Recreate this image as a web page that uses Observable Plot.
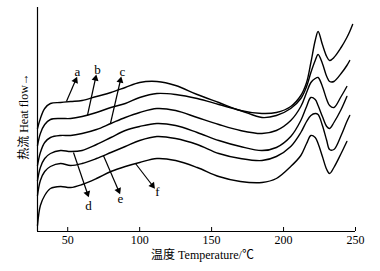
<!DOCTYPE html>
<html>
<head>
<meta charset="utf-8">
<script src="https://cdn.jsdelivr.net/npm/d3@7"></script>
<script src="https://cdn.jsdelivr.net/npm/@observablehq/plot@0.6"></script>
<style>
  html, body { margin: 0; padding: 0; background: #fff; }
</style>
</head>
<body>
<div id="chart"></div>
<script>
// Temperature grid (°C) shared by all curves
const temps = [29, 31, 34, 38, 45, 52, 60, 70, 80, 90, 100, 112, 125, 140, 155, 170, 185, 195, 205, 212, 216, 219, 222, 224, 227, 230, 232, 235, 240, 244, 246, 248];
// Heat flow (arbitrary units) for each curve
const flowA = [103,113,123,128,129,130,131,135,139,144,149,150,146,137,129,121,118,119,125,136,149,169,191,200,187,175,171,174,184,194,200,207];
const flowB = [86,98,107,112,113,113,115,119,124,128,134,138,137,133,127,121,114,116,123,133,145,159,171,177,168,155,150,150,158,166,171,null];
const flowC = [66,79,89,94,96,96,98,102,108,114,119,123,121,114,107,101,98,101,111,125,139,149,153,154,145,132,126,124,135,145,null,null];
const flowD = [51,64,73,78,81,80,81,87,94,101,105,108,106,99,91,85,81,84,95,111,125,134,132,126,115,105,103,109,122,135,null,null];
const flowE = [36,51,60,65,68,66,68,73,79,85,91,95,93,87,78,73,71,75,85,99,110,116,118,117,106,91,82,82,96,110,116,null];
const flowF = [6,26,36,43,45,44,47,53,60,65,69,73,71,64,55,50,49,53,65,76,88,96,94,88,75,62,58,64,78,90,null,null];

const seriesNames = ["a", "b", "c", "d", "e", "f"];
const seriesFlows = [flowA, flowB, flowC, flowD, flowE, flowF];

// Annotation arrows: start on curve -> arrow tip, and label position
const arrowX1 = [49.1, 63.7, 79.7, 54.0, 74.8, 97.1];
const arrowY1 = [130, 116, 108, 79, 76, 68];
const arrowX2 = [55.4, 69.3, 86.6, 63.7, 85.3, 108.9];
const arrowY2 = [151, 153, 151, 38, 41, 46];
const labelX = [56.8, 70.7, 88.0, 64.4, 86.6, 112.3];
const labelY = [160, 162, 160, 26, 33, 40];

const xTicks = [50, 100, 150, 200, 250];
const xLabel = "温度 Temperature/℃";
const yLabel = "热流 Heat flow→";

const xDomain = [29, 250];
const yDomain = [0, 224];

// Build tables
const curveRows = [];
seriesNames.forEach((name, i) => {
  temps.forEach((t, j) => {
    curveRows.push({series: name, t, v: seriesFlows[i][j]});
  });
});

const W = 380, H = 271;
const mL = 37, mR = 25, mT = 7, mB = 40;
const kx = (W - mL - mR) / (xDomain[1] - xDomain[0]);
const ky = (H - mT - mB) / (yDomain[1] - yDomain[0]);

const arrows = seriesNames.map((name, i) => ({
  name,
  x1: arrowX1[i], y1: arrowY1[i], x2: arrowX2[i], y2: arrowY2[i],
  lx: labelX[i], ly: labelY[i],
  angle: Math.atan2((arrowX2[i] - arrowX1[i]) * kx, (arrowY2[i] - arrowY1[i]) * ky) * 180 / Math.PI
}));

const font = "'Liberation Serif', 'Times New Roman', 'Noto Sans CJK SC', serif";

const chart = Plot.plot({
  width: W,
  height: H,
  marginLeft: mL,
  marginRight: mR,
  marginTop: mT,
  marginBottom: mB,
  style: {fontFamily: font, fontSize: "12px", color: "#000", background: "#fff"},
  x: {domain: xDomain},
  y: {domain: yDomain, axis: null},
  marks: [
    Plot.ruleX([xDomain[0]], {stroke: "#000", strokeWidth: 1.2}),
    Plot.ruleY([yDomain[0]], {stroke: "#000", strokeWidth: 1.2}),
    Plot.axisX({ticks: xTicks, tickSize: -4, tickPadding: 8, label: null, fontSize: 12, tickFormat: d => String(d)}),
    Plot.line(curveRows, {x: "t", y: "v", z: "series", stroke: "#000", strokeWidth: 1.4, curve: "catmull-rom", defined: d => d.v != null}),
    Plot.link(arrows, {x1: "x1", y1: "y1", x2: "x2", y2: "y2", stroke: "#000", strokeWidth: 1.2}),
    Plot.dot(arrows, {x: "x2", y: "y2", symbol: "triangle", r: 2.6, fill: "#000", stroke: null, rotate: "angle"}),
    Plot.text(arrows, {x: "lx", y: "ly", text: "name", fontSize: 13, fill: "#000"}),
    Plot.text([xLabel], {frameAnchor: "bottom", textAnchor: "middle", dy: 27, dx: 6, fontSize: 12, fill: "#000"}),
    Plot.text([yLabel], {frameAnchor: "left", textAnchor: "middle", rotate: -90, dx: -13, dy: -3, fontSize: 12, fill: "#000"})
  ]
});
document.getElementById("chart").appendChild(chart);
</script>
</body>
</html>
